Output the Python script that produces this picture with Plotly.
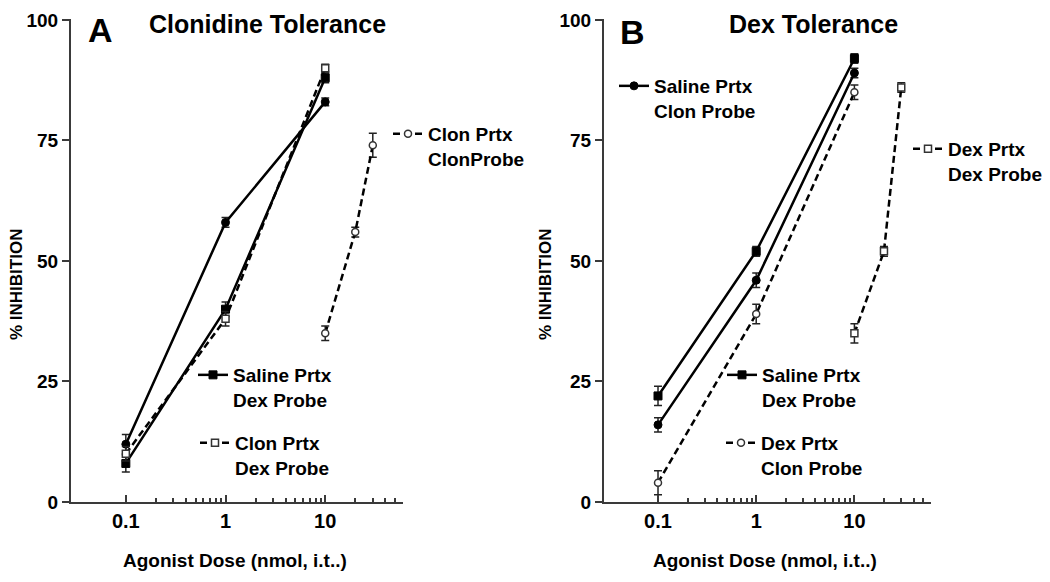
import plotly.graph_objects as go

# ---------------- data ----------------
doses_std = [0.1, 1, 10]
doses_tol = [10, 20, 30]

# Panel A: Clonidine Tolerance
a_sal_clon = [12, 58, 83]
a_sal_clon_err = [2, 1, 0.8]
a_sal_dex = [8, 40, 88]
a_sal_dex_err = [1.8, 1.5, 1]
a_clon_dex = [10, 38, 90]
a_clon_dex_err = [1.5, 1.5, 0.8]
a_clon_clon = [35, 56, 74]
a_clon_clon_err = [1.5, 1, 2.5]

# Panel B: Dex Tolerance
b_sal_clon = [16, 46, 89]
b_sal_clon_err = [1.5, 1.5, 1]
b_sal_dex = [22, 52, 92]
b_sal_dex_err = [2, 1, 1]
b_dex_clon = [4, 39, 85]
b_dex_clon_err = [2.5, 2, 1.5]
b_dex_dex = [35, 52, 86]
b_dex_dex_err = [2, 1, 1]

x_ticks = [0.1, 1, 10]
x_tick_text = ["0.1", "1", "10"]
x_minor = [0.2, 0.3, 0.4, 0.5, 0.6, 0.7, 0.8, 0.9,
           2, 3, 4, 5, 6, 7, 8, 9, 20, 30, 40, 50]
y_ticks = [0, 25, 50, 75, 100]

# ---------------- styling ----------------
FONT = "Liberation Sans, Arial, sans-serif"
OFF = 8                    # page body margin offset
W, H = 1050 - OFF, 582 - OFF
AX_COLOR = "#3a3a3a"
DASH = "7px,4px"


def fx(px):
    return (px - OFF) / W


def fy(py):
    return 1 - (py - OFF) / H


fig = go.Figure()


def add_series(x, y, err, name, symbol, filled, xa, ya, legend):
    if filled:
        marker = dict(symbol=symbol, size=8, color="black",
                      line=dict(color="black", width=1))
        line = dict(color="black", width=2.5, dash="solid")
    else:
        marker = dict(symbol=symbol, size=7, color="white",
                      line=dict(color="#333", width=1.5))
        line = dict(color="black", width=2.5, dash=DASH)
    fig.add_trace(go.Scatter(
        x=x, y=y, name=name, mode="lines+markers",
        xaxis=xa, yaxis=ya, legend=legend,
        line=line, marker=marker,
        error_y=dict(type="data", array=err, visible=True,
                     color="#222", thickness=1.5, width=4),
        cliponaxis=False,
    ))


# Panel A
add_series(doses_std, a_sal_clon, a_sal_clon_err, "Saline Prtx<br>Clon Probe", "circle", True, "x", "y", "legend")
add_series(doses_std, a_sal_dex, a_sal_dex_err, "Saline Prtx<br>Dex Probe", "square", True, "x", "y", "legend3")
add_series(doses_std, a_clon_dex, a_clon_dex_err, "Clon Prtx<br>Dex Probe", "square", False, "x", "y", "legend4")
add_series(doses_tol, a_clon_clon, a_clon_clon_err, "Clon Prtx<br>ClonProbe", "circle", False, "x", "y", "legend2")
# Panel B
add_series(doses_std, b_sal_clon, b_sal_clon_err, "Saline Prtx<br>Clon Probe", "circle", True, "x2", "y2", "legend5")
add_series(doses_std, b_sal_dex, b_sal_dex_err, "Saline Prtx<br>Dex Probe", "square", True, "x2", "y2", "legend7")
add_series(doses_std, b_dex_clon, b_dex_clon_err, "Dex Prtx<br>Clon Probe", "circle", False, "x2", "y2", "legend8")
add_series(doses_tol, b_dex_dex, b_dex_dex_err, "Dex Prtx<br>Dex Probe", "square", False, "x2", "y2", "legend6")

xaxis_common = dict(
    type="log", range=[-1.55, 1.78], automargin=False,
    tickmode="array", tickvals=x_ticks, ticktext=x_tick_text,
    ticks="inside", ticklen=7, tickwidth=1.5, tickcolor=AX_COLOR,
    minor=dict(tickmode="array", tickvals=x_minor, ticks="inside",
               ticklen=4, tickwidth=1.5, tickcolor=AX_COLOR, showgrid=False),
    showline=True, linecolor=AX_COLOR, linewidth=2,
    showgrid=False, zeroline=False,
    tickfont=dict(family=FONT, size=20, color="black", weight="bold"),
)
yaxis_common = dict(
    range=[0, 100.2], tickmode="array", tickvals=y_ticks, automargin=False,
    ticklabeloverflow="allow",
    ticks="outside", ticklen=7, tickwidth=1.5, tickcolor=AX_COLOR,
    showline=True, linecolor=AX_COLOR, linewidth=2,
    showgrid=False, zeroline=False,
    tickfont=dict(family=FONT, size=19, color="black", weight="bold"),
)

ydom = [fy(502), fy(19)]

fig.update_layout(
    width=W, height=H,
    margin=dict(l=0, r=0, t=0, b=0, autoexpand=False),
    paper_bgcolor="white", plot_bgcolor="white",
    xaxis=dict(xaxis_common, domain=[fx(71), fx(403)], anchor="y"),
    yaxis=dict(yaxis_common, domain=ydom, anchor="x"),
    xaxis2=dict(xaxis_common, domain=[fx(604), fx(931)], anchor="y2"),
    yaxis2=dict(yaxis_common, domain=ydom, anchor="x2"),
)

leg_font = dict(family=FONT, size=19, color="black", weight="bold")


def leg(x_px, line_center_px):
    top = line_center_px - 20
    return dict(x=fx(x_px), y=fy(top), xanchor="left", yanchor="top",
                bgcolor="rgba(0,0,0,0)", font=leg_font, valign="top",
                itemwidth=30, tracegroupgap=0)


fig.update_layout(
    legend=leg(84, 85),
    legend2=leg(388, 135),
    legend3=leg(193, 376),
    legend4=leg(195, 444),
    legend5=leg(614, 87),
    legend6=leg(908, 150),
    legend7=leg(722, 376),
    legend8=leg(721, 444),
)

title_font = dict(family=FONT, size=25, color="black", weight="bold")
lab_font = dict(family=FONT, size=19, color="black", weight="bold")


def ann(text, x_px, y_px, font, angle=0):
    fig.add_annotation(text=text, x=fx(x_px), y=fy(y_px), xref="paper", yref="paper",
                       xanchor="center", yanchor="middle", showarrow=False,
                       font=font, textangle=angle)


ann("A", 100, 30, dict(family=FONT, size=34, color="black", weight="bold"))
ann("Clonidine Tolerance", 267, 24, title_font)
ann("B", 632, 32, dict(family=FONT, size=34, color="black", weight="bold"))
ann("Dex Tolerance", 813, 24, title_font)
ann("% INHIBITION", 17, 285, dict(lab_font, size=17), angle=-90)
ann("% INHIBITION", 546, 285, dict(lab_font, size=17), angle=-90)
ann("Agonist Dose (nmol, i.t..)", 235, 560, lab_font)
ann("Agonist Dose (nmol, i.t..)", 765, 560, lab_font)

fig.write_html("out.html")
